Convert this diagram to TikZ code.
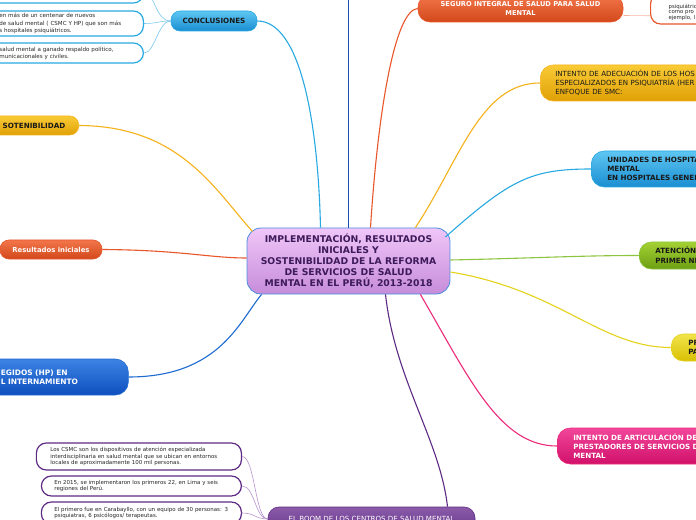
\documentclass[tikz,border=0pt]{standalone}
\usepackage{fontspec}
\setmainfont{DejaVu Sans}
\usetikzlibrary{calc}
\definecolor{centop}{HTML}{F0C6F8}
\definecolor{cenbot}{HTML}{C68CDA}
\definecolor{cenbd}{HTML}{4A8EE0}
\definecolor{centxt}{HTML}{3D1A5A}
\definecolor{lbluetop}{HTML}{5EC6F2}
\definecolor{lbluebot}{HTML}{1A8ED2}
\definecolor{lblue}{HTML}{29A9E1}
\definecolor{lblue2}{HTML}{7CC8EE}
\definecolor{dblue}{HTML}{1D4FB0}
\definecolor{orgtop}{HTML}{F2764A}
\definecolor{orgbot}{HTML}{D2481A}
\definecolor{orgln}{HTML}{E8562A}
\definecolor{orgln2}{HTML}{F7B49C}
\definecolor{ylwtop}{HTML}{F9CB36}
\definecolor{ylwbot}{HTML}{E0A006}
\definecolor{ylwln}{HTML}{F5B21B}
\definecolor{grntop}{HTML}{A4D234}
\definecolor{grnbot}{HTML}{6C9E12}
\definecolor{grnln}{HTML}{8CC63F}
\definecolor{yeltop}{HTML}{F2E44A}
\definecolor{yelbot}{HTML}{D8C004}
\definecolor{yelln}{HTML}{E5D31B}
\definecolor{magtop}{HTML}{F2469A}
\definecolor{magbot}{HTML}{D0106A}
\definecolor{magln}{HTML}{EC2C7A}
\definecolor{purtop}{HTML}{8C5CAA}
\definecolor{purbot}{HTML}{66368C}
\definecolor{purln}{HTML}{5E2A84}
\definecolor{purln2}{HTML}{B894CE}
\definecolor{hptop}{HTML}{3C84E4}
\definecolor{hpbot}{HTML}{0E4EBE}
\definecolor{hpln}{HTML}{1D6AD0}
\begin{document}
\begin{tikzpicture}[x=1bp,y=-1bp,
  central/.style={draw=cenbd, line width=0.8bp, rounded corners=14bp,
    minimum width=203bp, minimum height=66bp, top color=centop, bottom color=cenbot,
    text=centxt, font=\fontsize{9.3}{11}\selectfont\bfseries, align=center, inner sep=0pt},
  branch/.style={line width=0.6bp, inner sep=0pt, rounded corners=10bp,
    font=\fontsize{7.2}{9}\selectfont\bfseries, text=black!90},
  wbox/.style={fill=white, line width=1.2bp, inner sep=0pt, rounded corners=10bp,
    font=\fontsize{5.5}{7}\selectfont, text=black!85, align=left},
  link/.style={line width=1.1bp},
  sublink/.style={line width=0.6bp}]
\useasboundingbox (0,0) rectangle (696,520);
\clip (0,0) rectangle (696,520);
\fill[white] (0,0) rectangle (696,520);

% central
\node[central] (c) at (348.5,261) {IMPLEMENTACIÓN, RESULTADOS\\INICIALES Y\\SOSTENIBILIDAD DE LA REFORMA\\DE SERVICIOS DE SALUD\\MENTAL EN EL PERÚ, 2013-2018};

% conclusiones
\node[branch, draw=lblue, top color=lbluetop, bottom color=lbluebot, minimum width=86bp, minimum height=20bp, rounded corners=9bp] (concl) at (214,21) {CONCLUSIONES};
\node[wbox, draw=lblue, anchor=east, minimum width=160bp, minimum height=22bp] (k1) at (144,-8) {};
\node[wbox, draw=lblue, anchor=east, minimum width=160bp, minimum height=25bp, inner xsep=16bp, text width=128bp, font=\fontsize{5.6}{7.3}\selectfont] (k2) at (144,23.5) {en más de un centenar de nuevos\\de salud mental ( CSMC Y HP) que son más\\s hospitales psiquiátricos.};
\node[wbox, draw=lblue, anchor=east, minimum width=160bp, minimum height=20bp, inner xsep=16bp, text width=128bp, font=\fontsize{5.6}{7}\selectfont] (k3) at (144,53) {salud mental a ganado respaldo político,\\municacionales y civiles.};

% top
\coordinate (topend) at (348.5,-5);

% seguro
\node[branch, draw=orgln, top color=orgtop, bottom color=orgbot, text=white, minimum width=205bp, minimum height=27bp, align=center, font=\fontsize{6.7}{8.4}\selectfont\bfseries, rounded corners=12bp] (seg) at (520.5,8.5) {SEGURO INTEGRAL DE SALUD PARA SALUD\\MENTAL};
\node[wbox, draw=orgln, anchor=west, minimum width=80bp, minimum height=30.5bp, inner xsep=18bp, text width=44bp, font=\fontsize{5.4}{5.6}\selectfont] (segr) at (650,8.75) {\strut\\psiquiátric\\como pro\\ejemplo, l};

% adecuacion
\node[branch, draw=ylwln, top color=ylwtop, bottom color=ylwbot, anchor=west, minimum width=200bp, minimum height=36bp, inner xsep=15bp, text width=170bp, align=left, font=\fontsize{7.1}{9}\selectfont, rounded corners=13bp] (adec) at (540,83) {INTENTO DE ADECUACIÓN DE LOS HOS\\ESPECIALIZADOS EN PSIQUIATRÍA (HER\\ENFOQUE DE SMC:};

% unidades
\node[branch, draw=lblue, top color=lbluetop, bottom color=lbluebot, anchor=west, minimum width=150bp, minimum height=36bp, inner xsep=16bp, text width=118bp, align=left, rounded corners=13bp] (uni) at (591,169) {UNIDADES DE HOSPITA\\MENTAL\\EN HOSPITALES GENER};

% atencion primer nivel
\node[branch, draw=grnln, top color=grntop, bottom color=grnbot, anchor=west, minimum width=100bp, minimum height=27bp, inner xsep=16bp, text width=68bp, align=left, font=\fontsize{7.2}{10}\selectfont\bfseries, rounded corners=12bp] (grn) at (639,255.5) {ATENCIÓN\\PRIMER NI};

% yellow
\node[branch, draw=yelln, top color=yeltop, bottom color=yelbot, anchor=west, minimum width=60bp, minimum height=27bp, inner xsep=17bp, text width=26bp, align=left, rounded corners=12bp] (yel) at (671,347.5) {PR\\PA};

% magenta
\node[branch, draw=magln, top color=magtop, bottom color=magbot, text=white, anchor=west, minimum width=180bp, minimum height=36bp, inner xsep=16bp, text width=148bp, align=left, rounded corners=13bp] (mag) at (557,446) {INTENTO DE ARTICULACIÓN DE\\PRESTADORES DE SERVICIOS D\\MENTAL};

% boom
\node[branch, draw=purln, top color=purtop, bottom color=purbot, text=white, minimum width=207bp, minimum height=24bp, font=\fontsize{7.1}{9}\selectfont, rounded corners=11bp] (boom) at (371.5,519) {EL BOOM DE LOS CENTROS DE SALUD MENTAL};
\node[wbox, draw=purln, anchor=east, minimum width=205bp, minimum height=27bp, inner xsep=14bp, text width=177bp, font=\fontsize{5.5}{6.7}\selectfont] (bA) at (242,456.5) {Los CSMC son los dispositivos de atención especializada\\interdisciplinaria en salud mental que se ubican en entornos\\locales de aproximadamente 100 mil personas.};
\node[wbox, draw=purln, anchor=east, minimum width=200bp, minimum height=20bp, inner xsep=13bp, text width=174bp, font=\fontsize{5.5}{6.7}\selectfont] (bB) at (242,486) {En 2015, se implementaron los primeros 22, en Lima y seis\\regiones del Perú.};
\node[wbox, draw=purln, anchor=east, minimum width=200bp, minimum height=22bp, inner xsep=13bp, text width=174bp, font=\fontsize{5.5}{6.7}\selectfont] (bC) at (242,513) {El primero fue en Carabayllo, con un equipo de 30 personas: 3\\psiquiatras, 6 psicólogos/ terapeutas.};

% sostenibilidad
\node[branch, draw=ylwln, top color=ylwtop, bottom color=ylwbot, anchor=east, minimum width=104bp, minimum height=19bp, inner xsep=5bp, text width=94bp, align=left, rounded corners=9bp] (sost) at (79,125.5) {\hspace*{23bp}SOTENIBILIDAD};

% resultados iniciales
\node[branch, draw=orgln, top color=orgtop, bottom color=orgbot, text=white, minimum width=102bp, minimum height=19bp, rounded corners=9bp, font=\fontsize{6.9}{9}\selectfont\bfseries] (res) at (51,249.5) {Resultados iniciales};

% HP
\node[branch, draw=hpln, top color=hptop, bottom color=hpbot, text=white, anchor=west, minimum width=148bp, minimum height=36bp, inner xsep=20.5bp, text width=107bp, align=left, rounded corners=13bp, font=\fontsize{7.5}{9}\selectfont\bfseries] (hp) at (-20,377) {EGIDOS (HP) EN\\L INTERNAMIENTO};

% connectors
\draw[link, draw=lblue] ($(c.north)+(-28,0)$) .. controls (318,120) and (300,21) .. (concl.east);
\draw[link, draw=dblue] (c.north) -- (topend);
\draw[link, draw=orgln] ($(c.north)+(22,0)$) .. controls (378,110) and (395,10) .. (seg.west);
\draw[link, draw=ylwln] ($(c.north east)+(-35,0)$) .. controls (460,160) and (480,83) .. (adec.west);
\draw[link, draw=lblue] ($(c.east)+(-5,-24)$) .. controls (510,180) and (530,169) .. (uni.west);
\draw[link, draw=grnln] ($(c.east)+(0,-1)$) .. controls (540,258) and (580,255.5) .. (grn.west);
\draw[link, draw=yelln] ($(c.east)+(0,11)$) .. controls (560,290) and (600,347.5) .. (yel.west);
\draw[link, draw=magln] ($(c.south east)+(-30,0)$) .. controls (470,380) and (500,446) .. (mag.west);
\draw[link, draw=purln] ($(c.south)+(37,0)$) .. controls (395,380) and (440,440) .. ($(boom.north)+(76,0)$);
\draw[link, draw=ylwln] (sost.east) .. controls (180,126) and (215,190) .. ($(c.north west)+(6,4)$);
\draw[link, draw=orgln] (res.east) .. controls (180,250) and (210,258) .. ($(c.west)+(0,-3)$);
\draw[link, draw=hpln] (hp.east) .. controls (220,377) and (240,320) .. ($(c.south west)+(15,0)$);

\draw[sublink, draw=lblue2] (concl.west) .. controls (155,21) and (155,-8) .. (k1.east);
\draw[sublink, draw=lblue2] (concl.west) .. controls (158,21) and (158,23.5) .. (k2.east);
\draw[sublink, draw=lblue2] (concl.west) .. controls (158,21) and (155,53) .. (k3.east);
\draw[sublink, draw=orgln2] ($(seg.east)+(0,7)$) -- ($(segr.west)+(0,7)$);
\draw[sublink, draw=purln2] (boom.west) .. controls (255,519) and (255,456.5) .. (bA.east);
\draw[sublink, draw=purln2] (boom.west) .. controls (255,519) and (255,486) .. (bB.east);
\draw[sublink, draw=purln2] (boom.west) .. controls (255,519) and (255,513) .. (bC.east);
\end{tikzpicture}
\end{document}
